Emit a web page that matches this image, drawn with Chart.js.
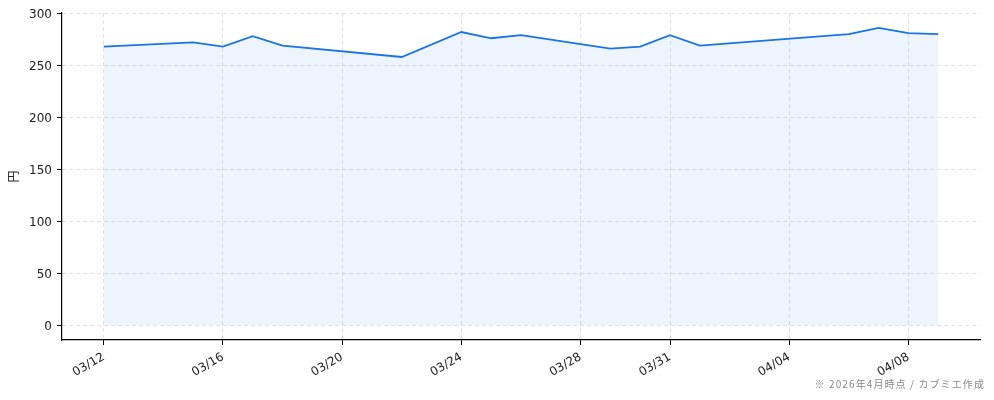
<!DOCTYPE html>
<html>
<head>
<meta charset="utf-8">
<script src="https://cdn.jsdelivr.net/npm/chart.js@4/dist/chart.umd.min.js"></script>
<style>
  html, body { margin: 0; padding: 0; background: #fff; }
  #wrap { position: relative; width: 994px; height: 400px; }
  #note {
    position: absolute; right: 9px; top: 376px;
    font: 10px "Noto Sans CJK JP", sans-serif; color: #888; letter-spacing: 1.1px;
  }
</style>
</head>
<body>
<div id="wrap">
  <canvas id="priceChart" width="994" height="400"></canvas>
  <div id="note">※ 2026年4月時点 / カブミエ作成</div>
</div>
<script>
const year = 2026;
const dates = ['03/12','03/15','03/16','03/17','03/18','03/22','03/24','03/25','03/26',
               '03/29','03/30','03/31','04/01','04/06','04/07','04/08','04/09'];
const prices = [268, 272, 268, 278, 269, 258, 282, 276, 279,
                266, 268, 279, 269, 280, 286, 281, 280];
const xTickDates = ['03/12','03/16','03/20','03/24','03/28','03/31','04/04','04/08'];
const yTicks = [0, 50, 100, 150, 200, 250, 300];

// 日付を03/12からの経過日数に変換
const baseDay = toTime(dates[0]);
function toTime(md) {
  const [m, d] = md.split('/').map(Number);
  return Date.UTC(year, m - 1, d);
}
function toDay(md) {
  return Math.round((toTime(md) - baseDay) / 86400000);
}
function dayLabel(n) {
  const dt = new Date(baseDay + n * 86400000);
  return String(dt.getUTCMonth() + 1).padStart(2, '0') + '/' + String(dt.getUTCDate()).padStart(2, '0');
}

const points = dates.map((d, i) => ({ x: toDay(d), y: prices[i] }));
const xSpan = points[points.length - 1].x - points[0].x;
const yMaxData = Math.max(...prices);

const fontFamily = '"DejaVu Sans", "Noto Sans CJK JP", sans-serif';
const gridOpts = {
  color: '#e2e2e2',
  lineWidth: 1,
  tickColor: '#000',
  tickBorderDash: [],
  tickLength: 5,
  drawTicks: true
};
const borderOpts = { display: true, color: '#000', width: 1.2, dash: [4, 3] };

const ctx = document.getElementById('priceChart').getContext('2d');
new Chart(ctx, {
  type: 'line',
  data: {
    datasets: [{
      data: points,
      borderColor: '#1a73e8',
      borderWidth: 1.8,
      backgroundColor: 'rgba(26, 115, 232, 0.08)',
      fill: 'origin',
      pointRadius: 0,
      tension: 0
    }]
  },
  options: {
    responsive: false,
    animation: false,
    layout: { padding: { left: 0, right: 14, top: 13, bottom: 0 } },
    plugins: { legend: { display: false }, tooltip: { enabled: false } },
    scales: {
      x: {
        type: 'linear',
        min: -xSpan * 0.05,
        max: xSpan * 1.05,
        afterBuildTicks: (scale) => { scale.ticks = xTickDates.map(d => ({ value: toDay(d) })); },
        afterFit: (scale) => { scale.height = 60; },
        grid: gridOpts,
        border: borderOpts,
        ticks: {
          autoSkip: false,
          minRotation: 30,
          maxRotation: 30,
          padding: 5,
          color: '#222',
          font: { family: fontFamily, size: 12 },
          callback: (v) => dayLabel(v)
        }
      },
      y: {
        min: -yMaxData * 0.05,
        max: yMaxData * 1.05,
        afterBuildTicks: (scale) => { scale.ticks = yTicks.map(v => ({ value: v })); },
        afterFit: (scale) => { scale.width = 62; },
        grid: gridOpts,
        border: borderOpts,
        title: {
          display: true,
          text: '円',
          color: '#222',
          font: { family: fontFamily, size: 12 },
          padding: { top: 8, bottom: 0 }
        },
        ticks: {
          padding: 5,
          labelOffset: 2,
          color: '#222',
          font: { family: fontFamily, size: 12 }
        }
      }
    }
  }
});
</script>
</body>
</html>
